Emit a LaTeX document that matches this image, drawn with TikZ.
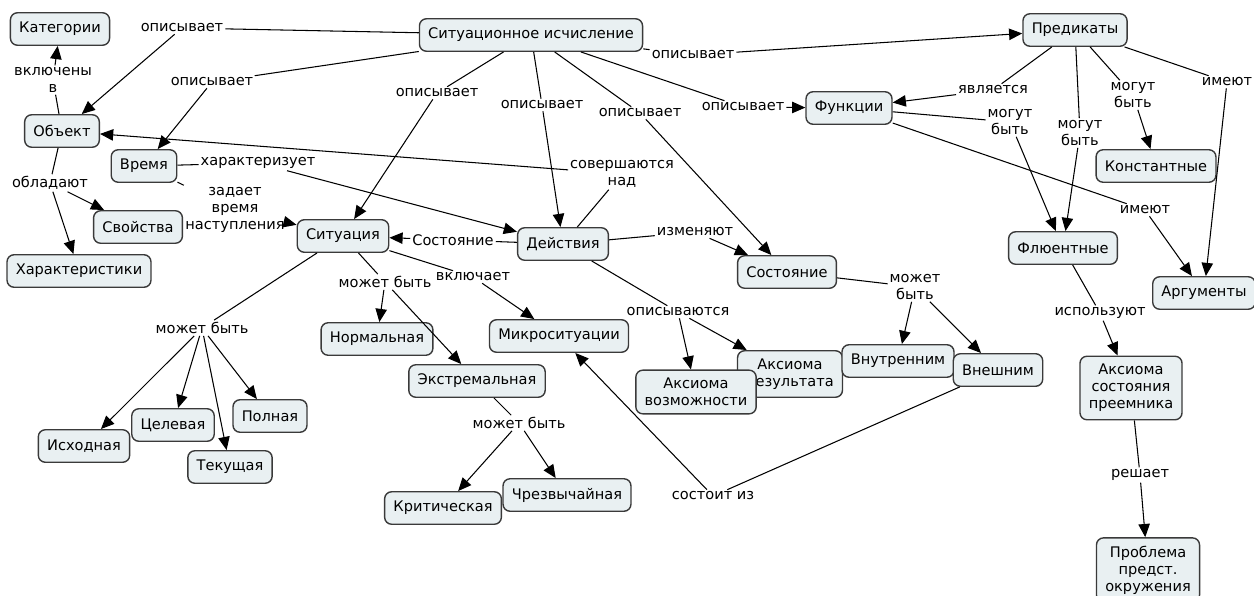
\documentclass[tikz,border=0pt]{standalone}
\usepackage{fontspec}
\setmainfont{DejaVu Sans}
\usetikzlibrary{arrows.meta}
\definecolor{boxfill}{HTML}{E9F0F2}
\definecolor{boxline}{HTML}{3A3A3A}

\begin{document}
\begin{tikzpicture}[x=0.02cm,y=-0.02cm,font=\fontsize{8.3}{9.7}\selectfont,
  st/.style={draw=boxline,line width=0.8pt,fill=boxfill,rounded corners=4pt,align=center,
    minimum height=18.5pt,inner xsep=5pt,inner ysep=4.5pt},
  rel/.style={inner sep=1pt,align=center},
  ln/.style={line width=0.6pt},
  arr/.style={-{Triangle[length=7.5pt,width=6.5pt]},line width=0.6pt}]
\useasboundingbox (0,0) rectangle (1254,595);
% concepts
\node[st] (si) at (531,35) {Ситуационное исчисление};
\node[st] (kat) at (60,29) {Категории};
\node[st] (obj) at (62,131) {Объект};
\node[st] (vrem) at (144,166) {Время};
\node[st] (svoj) at (138,227) {Свойства};
\node[st] (har) at (79,271) {Характеристики};
\node[st] (sit) at (343,236) {Ситуация};
\node[st] (dej) at (563,244) {Действия};
\node[st] (sost) at (787,272) {Состояние};
\node[st] (fun) at (849,108) {Функции};
\node[st] (pred) at (1075,30) {Предикаты};
\node[st] (konst) at (1156,166) {Константные};
\node[st] (flu) at (1063,248) {Флюентные};
\node[st] (arg) at (1204,293) {Аргументы};
\node[st] (norm) at (377,339) {Нормальная};
\node[st] (ish) at (84,446) {Исходная};
\node[st] (cel) at (173,425) {Целевая};
\node[st] (tek) at (230,467) {Текущая};
\node[st] (poln) at (270,416) {Полная};
\node[st] (mikro) at (559,336) {Микроситуации};
\node[st] (ekstr) at (477,381) {Экстремальная};
\node[st] (krit) at (443,508) {Критическая};
\node[st] (chrez) at (567,495) {Чрезвычайная};
\node[st] (axres) at (790,374) {Аксиома\\результата};
\node[st] (axvoz) at (696,392) {Аксиома\\возможности};
\node[st] (vnutr) at (898,361) {Внутренним};
\node[st] (vnesh) at (998,370) {Внешним};
\node[st] (asp) at (1131,388) {Аксиома\\состояния\\преемника};
\node[st] (probl) at (1148,570) {Проблема\\предст.\\окружения};
% link labels
\node[rel] (d1) at (182,28) {описывает};
\node[rel] (d2) at (212,82) {описывает};
\node[rel] (d3) at (437,93) {описывает};
\node[rel] (d4) at (542,105) {описывает};
\node[rel] (d5) at (640,113) {описывает};
\node[rel] (d6) at (743,107) {описывает};
\node[rel] (d7) at (693,55) {описывает};
\node[rel] (vkl) at (53,80) {включены\\в};
\node[rel] (obl) at (50,183) {обладают};
\node[rel] (har1) at (258,163) {характеризует};
\node[rel] (zad) at (235,210) {задает\\время\\наступления};
\node[rel] (sov) at (622,174) {совершаются\\над};
\node[rel] (sst) at (453,240) {Состояние};
\node[rel] (izm) at (695,232) {изменяют};
\node[rel] (ops) at (678,312) {описываются};
\node[rel] (mb1) at (202,328) {может быть};
\node[rel] (mb2) at (385,282) {может быть};
\node[rel] (vkl2) at (473,277) {включает};
\node[rel] (mb3) at (519,423) {может быть};
\node[rel] (mb4) at (915,287) {может\\быть};
\node[rel] (sos) at (713,496) {состоит из};
\node[rel] (yav) at (993,90) {является};
\node[rel] (mg1) at (1010,122) {могут\\быть};
\node[rel] (mg2) at (1080,133) {могут\\быть};
\node[rel] (mg3) at (1133,95) {могут\\быть};
\node[rel] (im1) at (1227,82) {имеют};
\node[rel] (im2) at (1145,210) {имеют};
\node[rel] (isp) at (1100,313) {используют};
\node[rel] (res) at (1140,475) {решает};
% links
\draw[ln] (si)--(d1); \draw[arr] (d1)--(obj);
\draw[ln] (si)--(d2); \draw[arr] (d2)--(vrem);
\draw[ln] (si)--(d3); \draw[arr] (d3)--(sit);
\draw[ln] (si)--(d4); \draw[arr] (d4)--(dej);
\draw[ln] (si)--(d5); \draw[arr] (d5)--(sost);
\draw[ln] (si)--(d6); \draw[arr] (d6)--(fun);
\draw[ln] (si)--(d7); \draw[arr] (d7)--(pred);
\draw[ln] (obj)--(vkl); \draw[arr] (vkl)--(kat);
\draw[ln] (obj)--(obl); \draw[arr] (obl)--(svoj); \draw[arr] (obl)--(har);
\draw[ln] (vrem)--(har1); \draw[arr] (har1)--(dej);
\draw[ln] (vrem)--(zad); \draw[arr] (zad)--(sit);
\draw[ln] (dej)--(sov); \draw[arr] (sov)--(obj);
\draw[ln] (dej)--(sst); \draw[arr] (sst)--(sit);
\draw[ln] (dej)--(izm); \draw[arr] (izm)--(sost);
\draw[ln] (dej)--(ops); \draw[arr] (ops)--(axvoz); \draw[arr] (ops)--(axres);
\draw[ln] (sit)--(mb1);
\draw[arr] (mb1)--(ish); \draw[arr] (mb1)--(cel); \draw[arr] (mb1)--(tek); \draw[arr] (mb1)--(poln);
\draw[ln] (sit)--(mb2); \draw[arr] (mb2)--(norm); \draw[arr] (mb2)--(ekstr);
\draw[ln] (sit)--(vkl2); \draw[arr] (vkl2)--(mikro);
\draw[ln] (ekstr)--(mb3); \draw[arr] (mb3)--(krit); \draw[arr] (mb3)--(chrez);
\draw[ln] (sost)--(mb4); \draw[arr] (mb4)--(vnutr); \draw[arr] (mb4)--(vnesh);
\draw[ln] (vnesh)--(sos); \draw[arr] (sos)--(mikro);
\draw[ln] (pred)--(yav); \draw[arr] (yav)--(fun);
\draw[ln] (pred)--(mg2); \draw[arr] (mg2)--(flu);
\draw[ln] (pred)--(mg3); \draw[arr] (mg3)--(konst);
\draw[ln] (pred)--(im1); \draw[arr] (im1)--(arg);
\draw[ln] (fun)--(mg1); \draw[arr] (mg1)--(flu);
\draw[ln] (fun)--(im2); \draw[arr] (im2)--(arg);
\draw[ln] (flu)--(isp); \draw[arr] (isp)--(asp);
\draw[ln] (asp)--(res); \draw[arr] (res)--(probl);
\end{tikzpicture}
\end{document}
